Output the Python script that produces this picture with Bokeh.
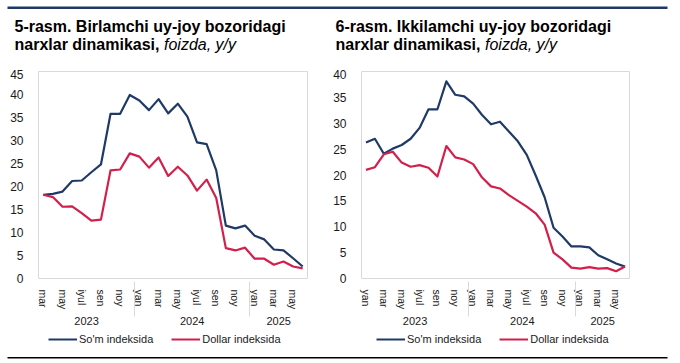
from bokeh.plotting import figure
from bokeh.models import (FactorRange, FixedTicker, Range1d, Legend, LegendItem,
                          ColumnDataSource, CustomJSTickFormatter, BoxAnnotation)
from bokeh.layouts import row, column
from bokeh.core.properties import value
from bokeh.embed import file_html
from bokeh.resources import INLINE

FONT = "Liberation Sans"
BLUE = "#1F3A68"
RED = "#D21F4B"

# ---------------- data ----------------
month_names = ["yan", "fev", "mar", "apr", "may", "iyun", "iyul", "avg", "sen", "okt", "noy", "dek"]
hidden_months = ["fev", "apr", "iyun", "avg", "okt", "dek"]

years = ["2023", "2024", "2025"]

# Chart 5 (primary market): mar 2023 .. iyun 2025
left_months_2023 = month_names[2:]
left_months_2024 = month_names
left_months_2025 = month_names[:6]
left_som = [18.2, 18.4, 18.9, 21.2, 21.3, 23.1, 24.8, 35.8, 35.8, 39.9,
            38.7, 36.6, 39.0, 35.9, 38.0, 35.2, 29.6, 29.2, 23.5, 11.5, 10.9, 11.5,
            9.3, 8.5, 6.3, 6.1, 4.4, 2.6]
left_usd = [18.2, 17.7, 15.6, 15.7, 14.2, 12.6, 12.8, 23.5, 23.7, 27.2,
            26.5, 24.1, 26.3, 22.3, 24.3, 22.4, 19.1, 21.5, 17.5, 6.6, 6.1, 6.7,
            4.3, 4.3, 3.0, 3.7, 2.6, 2.2]
left_yticks = [0, 5, 10, 15, 20, 25, 30, 35, 40, 45]

# Chart 6 (secondary market): yan 2023 .. iyun 2025
right_months_2023 = month_names
right_months_2024 = month_names
right_months_2025 = month_names[:6]
right_som = [26.3, 27.0, 24.1, 25.1, 25.8, 27.0, 29.1, 32.7, 32.7, 38.1, 35.5, 35.2,
             33.8, 31.6, 29.8, 30.3, 28.4, 26.5, 23.9, 19.9, 15.7, 9.8, 8.1, 6.2,
             6.2, 6.0, 4.5, 3.7, 2.9, 2.3]
right_usd = [21.0, 21.5, 24.0, 24.5, 22.4, 21.6, 21.9, 21.4, 19.7, 25.6, 23.4, 23.0,
             22.1, 19.5, 17.8, 17.4, 16.1, 15.0, 13.9, 12.6, 10.4, 5.0, 3.7, 2.1,
             1.9, 2.2, 1.9, 2.0, 1.4, 2.3]
right_yticks = [0, 5, 10, 15, 20, 25, 30, 35, 40]

series_names = ["So'm indeksida", "Dollar indeksida"]

left_title = ["5-rasm. Birlamchi uy-joy bozoridagi", "narxlar dinamikasi,", "foizda, y/y"]
right_title = ["6-rasm. Ikkilamchi uy-joy bozoridagi", "narxlar dinamikasi,", "foizda, y/y"]

PAGE_W = 672
HEADER_H = 69
CHART_H = 261
FOOTER_H = 30
GRAY = "#d9d9d9"


def factors(m23, m24, m25):
    return ([(years[0], m) for m in m23] + [(years[1], m) for m in m24] +
            [(years[2], m) for m in m25])


month_formatter = CustomJSTickFormatter(
    args=dict(hidden=hidden_months),
    code="""
const t = Array.isArray(tick) ? tick[tick.length - 1] : tick;
return hidden.includes(t) ? "" : t;
""")


def make_chart(facs, som, usd, yticks, width, mb_left, mb_right, mb_top, mb_bottom):
    p = figure(width=width, height=CHART_H,
               x_range=FactorRange(*facs, range_padding=0, group_padding=0, factor_padding=0),
               y_range=Range1d(yticks[0], yticks[-1]),
               output_backend="svg", toolbar_location=None, title=None,
               min_border_left=mb_left, min_border_right=mb_right,
               min_border_top=mb_top, min_border_bottom=mb_bottom)
    src = ColumnDataSource(dict(x=facs, som=som, usd=usd))
    p.line("x", "som", source=src, color=BLUE, line_width=2.2, line_join="round")
    p.line("x", "usd", source=src, color=RED, line_width=2.2, line_join="round")

    p.xgrid.grid_line_color = None
    p.ygrid.grid_line_color = None
    p.outline_line_color = GRAY
    p.outline_line_width = 1

    xa = p.xaxis[0]
    xa.formatter = month_formatter
    xa.major_label_orientation = "vertical"
    xa.major_label_text_font = FONT
    xa.major_label_text_font_size = "10.5px"
    xa.major_label_text_color = "#1a1a1a"
    xa.group_text_font = FONT
    xa.group_text_font_size = "11px"
    xa.group_text_font_style = "normal"
    xa.group_text_color = "#1a1a1a"
    xa.major_tick_line_color = None
    xa.minor_tick_line_color = None
    xa.axis_line_color = None
    xa.separator_line_color = GRAY
    xa.separator_line_width = 1
    xa.major_label_standoff = 5

    ya = p.yaxis[0]
    ya.ticker = FixedTicker(ticks=yticks)
    ya.axis_line_color = None
    ya.major_tick_line_color = None
    ya.minor_tick_line_color = None
    ya.major_label_text_font = FONT
    ya.major_label_text_font_size = "12px"
    ya.major_label_text_color = "#1a1a1a"
    ya.major_label_standoff = 9

    # frame edges continued down through the category-axis area
    frame_w = width - mb_left - mb_right
    for lft in (0, frame_w - 1):
        p.add_layout(BoxAnnotation(left=lft, right=lft + 1, top=0, bottom=-49,
                                   left_units="screen", right_units="screen",
                                   top_units="screen", bottom_units="screen",
                                   fill_color=GRAY, fill_alpha=1, line_color=None))
    return p


def blank_fig(height):
    f = figure(width=PAGE_W, height=height, x_range=Range1d(0, PAGE_W), y_range=Range1d(height, 0),
               output_backend="svg", toolbar_location=None, title=None,
               x_axis_location=None, y_axis_location=None, min_border=0)
    f.grid.visible = False
    f.outline_line_color = None
    return f


# header: navy rule + titles (page pixel coordinates)
header = blank_fig(HEADER_H)
header.quad(left=[7], right=[667], top=[6], bottom=[8.5], fill_color="#1F3864", line_color=None)
for tx, ttl in ((14, left_title), (335, right_title)):
    header.text(x=[tx], y=[26], text=[ttl[0]], text_font=value(FONT), text_font_size=value("16px"),
                text_font_style="bold", text_color="#000000", text_baseline="alphabetic")
    header.text(x=[tx], y=[44], text=[ttl[1]], text_font=value(FONT), text_font_size=value("16px"),
                text_font_style="bold", text_color="#000000", text_baseline="alphabetic")
    header.text(x=[tx + 149.5], y=[44], text=[ttl[2]], text_font=value(FONT),
                text_font_size=value("16px"), text_font_style="italic", text_color="#000000",
                text_baseline="alphabetic")

p1 = make_chart(factors(left_months_2023, left_months_2024, left_months_2025),
                left_som, left_usd, left_yticks, 330, 38, 23, 2, 52)
p2 = make_chart(factors(right_months_2023, right_months_2024, right_months_2025),
                right_som, right_usd, right_yticks, PAGE_W - 330, 28, 43, 0, 51)

# footer: legends under each chart + bottom black rule
footer = blank_fig(FOOTER_H)
nan = float("nan")
for lx in (48, 376):
    k1 = footer.line(x=[nan], y=[nan], color=BLUE, line_width=2)
    k2 = footer.line(x=[nan], y=[nan], color=RED, line_width=2)
    leg = Legend(items=[LegendItem(label=series_names[0], renderers=[k1]),
                        LegendItem(label=series_names[1], renderers=[k2])],
                 orientation="horizontal", location=(lx, 15),
                 glyph_width=29, glyph_height=10, label_height=12, label_standoff=2, spacing=18,
                 label_text_font=FONT, label_text_font_size="11px", label_text_color="#1a1a1a",
                 padding=0, margin=0, border_line_color=None, background_fill_alpha=0)
    footer.add_layout(leg, "center")
footer.quad(left=[7], right=[667], top=[26.5], bottom=[28], fill_color="#000000", line_color=None)

layout = column(header, row(p1, p2), footer)
open("out.html", "w").write(file_html(layout, INLINE))
